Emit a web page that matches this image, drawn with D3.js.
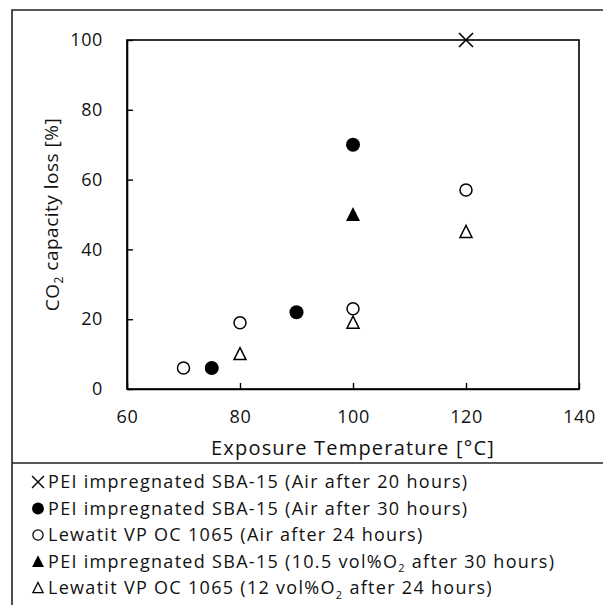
<!DOCTYPE html>
<html>
<head>
<meta charset="utf-8">
<script src="https://cdn.jsdelivr.net/npm/d3@7"></script>
<style>
  body { margin: 0; background: #fff; }
  svg { display: block; font-family: "Open Sans", sans-serif; }
</style>
</head>
<body>
<svg id="chart" width="603" height="605"></svg>
<script>
// --- data ---
const xTicks = [60, 80, 100, 120, 140];
const yTicks = [0, 20, 40, 60, 80, 100];

const air20Temp = [120];
const air20Loss = [100];
const air30Temp = [75, 90, 100];
const air30Loss = [6, 22, 70];
const lewAirTemp = [70, 80, 100, 120];
const lewAirLoss = [6, 19, 23, 57];
const pei105Temp = [100];
const pei105Loss = [50];
const lew12Temp = [80, 100, 120];
const lew12Loss = [10, 19, 45];

const series = [
  { key: "cross",   label: ["PEI impregnated SBA-15 (Air after 20 hours)"], temps: air20Temp, loss: air20Loss },
  { key: "dot",     label: ["PEI impregnated SBA-15 (Air after 30 hours)"], temps: air30Temp, loss: air30Loss },
  { key: "ring",    label: ["Lewatit VP OC 1065 (Air after 24 hours)"], temps: lewAirTemp, loss: lewAirLoss },
  { key: "tri",     label: ["PEI impregnated SBA-15 (10.5 vol%O", "2", " after 30 hours)"], temps: pei105Temp, loss: pei105Loss },
  { key: "triOpen", label: ["Lewatit VP OC 1065 (12 vol%O", "2", " after 24 hours)"], temps: lew12Temp, loss: lew12Loss }
];

const svg = d3.select("#chart");
const frame = "#222";
const ink = "#111";

// outer frame + legend separator
svg.append("path")
  .attr("d", "M12,605 V10 H603 M12,463 H603")
  .attr("fill", "none").attr("stroke", frame).attr("stroke-width", 1.6);

const margin = { top: 40, right: 24, bottom: 216, left: 127 };
const width = 603 - margin.left - margin.right;
const height = 605 - margin.top - margin.bottom;

const g = svg.append("g").attr("transform", `translate(${margin.left},${margin.top})`);

const x = d3.scaleLinear().domain([60, 140]).range([0, width]);
const y = d3.scaleLinear().domain([0, 100]).range([height, 0]);

// plot box
g.append("rect").attr("width", width).attr("height", height)
  .attr("fill", "none").attr("stroke", "#000").attr("stroke-width", 1.6);

const xAxis = g.append("g").attr("transform", `translate(0,${height})`)
  .call(d3.axisBottom(x).tickValues(xTicks).tickSizeInner(-6).tickSizeOuter(0).tickPadding(21));
const yAxis = g.append("g")
  .call(d3.axisLeft(y).tickValues(yTicks).tickSizeInner(-6).tickSizeOuter(0).tickPadding(24));
[xAxis, yAxis].forEach(a => {
  a.select(".domain").attr("stroke", "#000").attr("stroke-width", 1.6);
  a.selectAll(".tick line").attr("stroke", "#000").attr("stroke-width", 1.4);
  a.selectAll("text").attr("font-size", 18).attr("fill", ink)
    .attr("font-family", "'Open Sans', sans-serif").attr("letter-spacing", 0.6);
});

// axis titles
g.append("text")
  .attr("x", width / 2).attr("y", height + 66)
  .attr("text-anchor", "middle").attr("font-size", 20).attr("fill", ink)
  .attr("letter-spacing", 1.2)
  .text("Exposure Temperature  [°C]");

const yt = g.append("text")
  .attr("transform", `translate(${52 - margin.left},${height / 2}) rotate(-90)`)
  .attr("text-anchor", "middle").attr("dy", "0.35em").attr("font-size", 19).attr("fill", ink)
  .attr("letter-spacing", 0.5);
yt.append("tspan").text("CO");
yt.append("tspan").attr("font-size", 12).attr("dy", "0.35em").text("2");
yt.append("tspan").attr("dy", "-0.23em").text(" capacity loss [%]");

// marker drawing
function drawMarker(sel, key) {
  if (key === "cross") {
    sel.append("path").attr("d", "M-7,-7L7,7M-7,7L7,-7")
      .attr("stroke", "#000").attr("stroke-width", 1.6).attr("fill", "none");
  } else if (key === "dot") {
    sel.append("circle").attr("r", 7).attr("fill", "#000");
  } else if (key === "ring") {
    sel.append("circle").attr("r", 6).attr("fill", "#fff").attr("stroke", "#000").attr("stroke-width", 1.5);
  } else if (key === "tri") {
    sel.append("path").attr("d", "M0,-7.5L7,6.5L-7,6.5Z").attr("fill", "#000");
  } else {
    sel.append("path").attr("d", "M0,-6.5L6,5.5L-6,5.5Z")
      .attr("fill", "#fff").attr("stroke", "#000").attr("stroke-width", 1.5);
  }
}

series.forEach(s => {
  const pts = s.temps.map((t, i) => ({ t, v: s.loss[i] }));
  g.selectAll(null).data(pts).enter().append("g")
    .attr("transform", d => `translate(${x(d.t)},${y(d.v)})`)
    .each(function () { drawMarker(d3.select(this), s.key); });
});

// legend
const legend = svg.append("g").attr("transform", "translate(38,482)");
series.forEach((s, i) => {
  const row = legend.append("g").attr("transform", `translate(0,${i * 26.5})`);
  const m = row.append("g").attr("transform", "scale(0.85)");
  drawMarker(m, s.key);
  const t = row.append("text").attr("x", 10).attr("dy", "0.35em")
    .attr("font-size", 18).attr("fill", ink).attr("letter-spacing", 1.3);
  t.append("tspan").text(s.label[0]);
  if (s.label.length > 1) {
    t.append("tspan").attr("font-size", 11).attr("dy", "0.4em").text(s.label[1]);
    t.append("tspan").attr("dy", "-0.25em").text(s.label[2]);
  }
});
</script>
</body>
</html>
